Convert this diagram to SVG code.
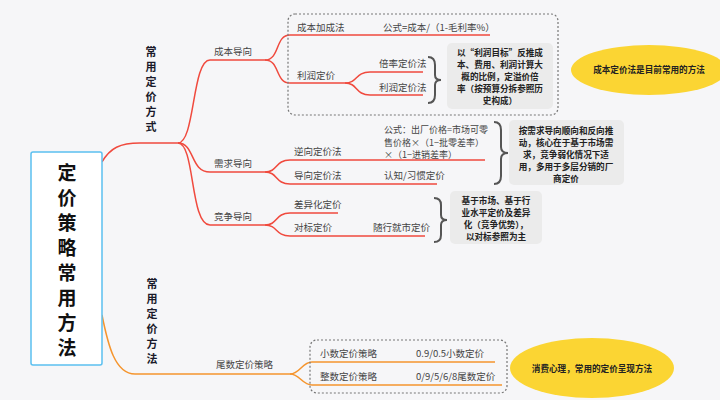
<svg xmlns="http://www.w3.org/2000/svg" width="720" height="400" viewBox="0 0 720 400">
<style>
text{font-family:"Noto Sans CJK SC","Noto Sans",sans-serif}
.t{font-size:9.5px;fill:#444}
.f{font-size:9px;fill:#444}
.b{font-size:8.6px;font-weight:bold;fill:#222;text-anchor:middle}
.v{font-size:11px;font-weight:bold;fill:#1a1a2a;text-anchor:middle}
.R{font-size:19px;font-weight:bold;fill:#111;text-anchor:middle}
.r{fill:none;stroke:#f04a3e;stroke-width:1.5}
.o{fill:none;stroke:#f5952e;stroke-width:1.5}
.d{fill:none;stroke:#777;stroke-width:1.2;stroke-dasharray:2 2}
.g{fill:#ebebeb}
.br{fill:none;stroke:#555;stroke-width:2}
</style>
<rect width="720" height="400" fill="#f6f6f8"/>
<g id="connectors">
<path class="r" d="M102,162 C110,148 120,143 140,143 H178"/>
<path class="r" d="M178,143 C195,143 192,60 210,60 H265"/>
<path class="r" d="M178,143 C195,143 190,172 210,172 H265"/>
<path class="r" d="M178,143 C195,143 190,225 210,225 H265"/>
<path class="r" d="M265,60 C280,60 275,35 290,35 H490"/>
<path class="r" d="M265,60 C280,60 275,83 290,83 H345"/>
<path class="r" d="M345,83 C358,83 355,72 370,72 H423"/>
<path class="r" d="M345,83 C358,83 355,95 370,95 H423"/>
<path class="r" d="M265,172 C278,172 275,160 290,160 H485"/>
<path class="r" d="M265,172 C278,172 275,184 290,184 H437"/>
<path class="r" d="M265,225 C278,225 275,213 290,213 H338"/>
<path class="r" d="M265,225 C278,225 275,236 290,236 H425"/>
<path class="o" d="M102,315 C108,345 115,374 135,374 H290"/>
<path class="o" d="M290,374 C300,374 302,362 312,362 H495"/>
<path class="o" d="M290,374 C300,374 302,385 312,385 H502"/>
</g>
<g id="root">
<rect x="31" y="152" width="71" height="213" rx="2" fill="#fff" stroke="#5bc0f0" stroke-width="1.5"/>
<text class="R" x="67" y="180">定</text>
<text class="R" x="67" y="205">价</text>
<text class="R" x="67" y="230">策</text>
<text class="R" x="67" y="255">略</text>
<text class="R" x="67" y="280">常</text>
<text class="R" x="67" y="305">用</text>
<text class="R" x="67" y="330">方</text>
<text class="R" x="67" y="355">法</text>
</g>
<g id="m1">
<text class="v" x="151" y="56">常</text><text class="v" x="151" y="71">用</text><text class="v" x="151" y="86">定</text><text class="v" x="151" y="101">价</text><text class="v" x="151" y="116">方</text><text class="v" x="151" y="131">式</text>
</g>
<g id="m2">
<text class="v" x="152" y="288">常</text><text class="v" x="152" y="303">用</text><text class="v" x="152" y="318">定</text><text class="v" x="152" y="333">价</text><text class="v" x="152" y="348">方</text><text class="v" x="152" y="363">法</text>
</g>
<g id="cost">
<rect class="d" x="288" y="14" width="270" height="101" rx="7"/>
<text class="t" x="214" y="55">成本导向</text>
<text class="t" x="297" y="31">成本加成法</text>
<text class="t" x="383" y="31">公式=成本/（1-毛利率%）</text>
<text class="t" x="297" y="79">利润定价</text>
<text class="t" x="379" y="67">倍率定价法</text>
<text class="t" x="379" y="91">利润定价法</text>
<path class="br" d="M428,57 q7,0 7,8 v10 q0,5 6,5 q-6,0 -6,5 v10 q0,8 -7,8"/>
<rect class="g" x="447" y="43" width="106" height="66" rx="5"/>
<text class="b" x="500" y="56">以“利润目标”反推成</text>
<text class="b" x="500" y="68">本、费用、利润计算大</text>
<text class="b" x="500" y="80">概的比例，定溢价倍</text>
<text class="b" x="500" y="92">率（按预算分拆参照历</text>
<text class="b" x="500" y="104">史构成）</text>
<ellipse cx="649" cy="70" rx="78" ry="25" fill="#fbd533"/>
<text class="b" x="649" y="73">成本定价法是目前常用的方法</text>
</g>
<g id="demand">
<text class="t" x="214" y="167">需求导向</text>
<text class="t" x="294" y="155">逆向定价法</text>
<text class="t" x="294" y="179">导向定价法</text>
<text class="f" x="384" y="133">公式：出厂价格=市场可零</text>
<text class="f" x="384" y="145.5">售价格×（1−批零差率）</text>
<text class="f" x="384" y="158">×（1−进销差率）</text>
<text class="t" x="384" y="179">认知/习惯定价</text>
<path class="br" d="M494,122 q7,0 7,8 v17 q0,6 7,6 q-7,0 -7,6 v17 q0,8 -7,8"/>
<rect class="g" x="509" y="120" width="115" height="65" rx="5"/>
<text class="b" x="566" y="134">按需求导向顺向和反向推</text>
<text class="b" x="566" y="146">动，核心在于基于市场需</text>
<text class="b" x="566" y="158">求，竞争弱化情况下适</text>
<text class="b" x="566" y="170">用，多用于多层分销的厂</text>
<text class="b" x="566" y="182">商定价</text>
</g>
<g id="compete">
<text class="t" x="214" y="220">竞争导向</text>
<text class="t" x="294" y="208">差异化定价</text>
<text class="t" x="294" y="231">对标定价</text>
<text class="t" x="373" y="231">随行就市定价</text>
<path class="br" d="M434,198 q7,0 7,7 v10 q0,5 6,5 q-6,0 -6,5 v10 q0,7 -7,7"/>
<rect class="g" x="450" y="191" width="92" height="53" rx="5"/>
<text class="b" x="496" y="204">基于市场、基于行</text>
<text class="b" x="496" y="216">业水平定价及差异</text>
<text class="b" x="496" y="228">化（竞争优势），</text>
<text class="b" x="496" y="240">以对标参照为主</text>
</g>
<g id="tail">
<text class="t" x="216" y="368">尾数定价策略</text>
<rect class="d" x="310" y="340" width="197" height="53" rx="7"/>
<text class="t" x="320" y="357">小数定价策略</text>
<text class="t" x="416" y="357">0.9/0.5小数定价</text>
<text class="t" x="320" y="380">整数定价策略</text>
<text class="t" x="416" y="380">0/9/5/6/8尾数定价</text>
<ellipse cx="592" cy="368" rx="82" ry="30" fill="#fbd533"/>
<text class="b" x="592" y="372">消费心理，常用的定价呈现方法</text>
</g>
</svg>
